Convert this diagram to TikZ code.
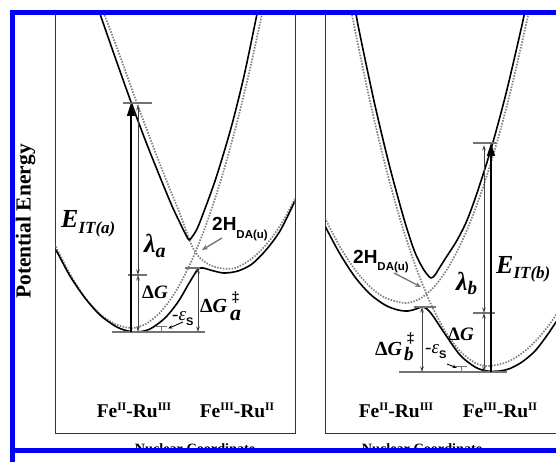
\documentclass[tikz,border=0pt]{standalone}
\usepackage{fontspec}
\setmainfont{Liberation Serif}
\newfontfamily\lsans{Liberation Sans}
\usetikzlibrary{arrows.meta}
\newcommand\fsz[1]{\fontsize{#1}{#1}\selectfont}
\begin{document}
\begin{tikzpicture}[x=1pt,y=-1pt,
  frame/.style={black!80, line width=0.9pt},
  adia/.style={black, line width=1.6pt, line join=round},
  dia/.style={black!50, line width=1.7pt, dash pattern=on 1.5pt off 1.4pt},
  lvl/.style={black!55, line width=1.4pt},
  eit/.style={black, line width=1.5pt, -{Triangle[length=13pt,width=8pt]}},
  dimar/.style={black!75, line width=0.9pt, {Stealth[length=5.5pt,width=3.5pt]}-{Stealth[length=5.5pt,width=3.5pt]}},
  ptr/.style={black!55, line width=1.3pt, -{Stealth[length=6pt,width=5pt]}},
  eptr/.style={black, line width=0.9pt, -{Stealth[length=4.5pt,width=3.5pt]}},
  lbl/.style={inner sep=0pt, anchor=base west},
  ctr/.style={inner sep=0pt, anchor=base},
  stt/.style={black!55, line width=1pt}]
\useasboundingbox (0,0) rectangle (556,462);
\clip (0,0) rectangle (556,462);
\fill[white] (0,0) rectangle (556,462);

% panel frames
\draw[frame] (55,10) -- (55,433) -- (295,433) -- (295,10);
\draw[frame] (325,10) -- (325,433) -- (570,433);

% ---------- left panel curves ----------
\begin{scope}
\clip (55.5,14) rectangle (294.5,432.5);
\draw[dia] plot[smooth] coordinates {(48,231) (55,245) (70,274) (85,297.5) (100,314) (115,324) (131,328) (145,324.4) (160,312.6) (175,292.6) (190,264.3) (205,227.8) (220,183) (235,130) (250,69) (265,0)};
\draw[dia] plot[smooth] coordinates {(96,0) (104,14) (120,56) (135,98) (150,138) (165,177) (180,214) (192,246) (200,258) (210,265) (222,268.5) (235,268) (250,260) (265,246) (280,226) (295,199) (302,186)};
\draw[adia] plot[smooth] coordinates {(48,238) (57,252) (70,276) (85,298) (100,315) (115,326) (126,330.5) (137,332) (150,329) (165,318) (178,302) (188,285) (194,275) (198,269) (203,268) (212,270.5) (224,273) (238,271) (252,264) (266,250) (280,231) (294,203) (302,185)};
\draw[adia] plot[smooth] coordinates {(95,0) (100,14) (115,57) (131,102) (146,142) (160,177) (172,206) (181,225) (186,235) (189,240) (192,237) (197,229) (203,214) (216,178) (231,128) (244,76) (257,14) (260,0)};
\end{scope}

% ---------- right panel curves ----------
\begin{scope}
\clip (325.5,14) rectangle (556,432.5);
\draw[dia] plot[smooth] coordinates {(318,202) (326,220) (340,246.8) (355,269.7) (370,286.7) (385,297.7) (405,303) (420,298.7) (435,285.9) (450,264.5) (465,234.6) (480,196.1) (495,149.1) (510,93.5) (525,29.4) (532,-3)};
\draw[dia] plot[smooth] coordinates {(345,-22) (355,30) (370,101.4) (385,164.4) (400,218.9) (415,264.7) (430,302.1) (445,330.9) (460,351.1) (475,362.8) (488,366) (505,362.8) (520,354.7) (535,341.7) (550,323.7) (565,300.8)};
\draw[adia] plot[smooth] coordinates {(318,212) (326,228) (340,254) (355,277) (370,294) (385,305) (398,310) (408,311) (416,309) (422,307) (427,309) (433,316) (445,334) (460,355) (475,367) (487,371) (500,371) (510,368.5) (522,362) (535,351) (548,334) (560,316)};
\draw[adia] plot[smooth] coordinates {(349,-10) (354,4) (359,30) (374,101) (389,164) (404,219) (414,250) (421,265) (426,273) (431,278) (435,275) (440,267) (447,256) (456,242) (466,222.7) (476,196) (491,149) (506,93.5) (521,29.4) (528,-3)};
\end{scope}

% ---------- left panel levels and arrows ----------
\coordinate (bla) at (112,332); \coordinate (bra) at (205,332);
\coordinate (tla) at (123,103); \coordinate (tra) at (152,103);
\coordinate (mla) at (128,275); \coordinate (mra) at (147,275);
\coordinate (cla) at (185,268); \coordinate (cra) at (200,268);
\draw[lvl] (bla) -- (bra);
\draw[lvl] (tla) -- (tra);
\draw[lvl,line width=1.1pt] (mla) -- (mra);
\draw[lvl,line width=1.1pt] (cla) -- (cra);
\coordinate (e0a) at (131,332); \coordinate (e1a) at (131,103);
\draw[eit] (e0a) -- (e1a);
\coordinate (l0a) at (138,105); \coordinate (l1a) at (138,275); \coordinate (l2a) at (138,332);
\draw[dimar] (l1a) -- (l0a);
\draw[dimar] (l1a) -- (l2a);
\coordinate (g0a) at (198,268); \coordinate (g1a) at (198,332);
\draw[dimar] (g1a) -- (g0a);
\coordinate (s1a) at (155,326); \coordinate (s2a) at (167,326); \coordinate (s3a) at (161,326); \coordinate (s4a) at (161,332);
\draw[stt] (s1a) -- (s2a); \draw[stt] (s3a) -- (s4a);
\coordinate (p0a) at (183,322); \coordinate (p1a) at (168,328.5);
\draw[eptr] (p0a) -- (p1a);
\coordinate (h0a) at (222,238); \coordinate (h1a) at (202,250);
\draw[ptr] (h0a) -- (h1a);

% ---------- right panel levels and arrows ----------
\coordinate (blb) at (399,372); \coordinate (brb) at (507,372);
\coordinate (tlb) at (473,143); \coordinate (trb) at (496,143);
\coordinate (mlb) at (473,313); \coordinate (mrb) at (495,313);
\coordinate (clb) at (414,307); \coordinate (crb) at (436,307);
\draw[lvl] (blb) -- (brb);
\draw[lvl] (tlb) -- (trb);
\draw[lvl,line width=1.1pt] (mlb) -- (mrb);
\draw[lvl,line width=1.1pt] (clb) -- (crb);
\coordinate (e0b) at (491,372); \coordinate (e1b) at (491,143);
\draw[eit] (e0b) -- (e1b);
\coordinate (l0b) at (484,145); \coordinate (l1b) at (484,313); \coordinate (l2b) at (484,372);
\draw[dimar] (l1b) -- (l0b);
\draw[dimar] (l1b) -- (l2b);
\coordinate (g0b) at (422,307); \coordinate (g1b) at (422,372);
\draw[dimar] (g1b) -- (g0b);
\coordinate (s1b) at (456,366); \coordinate (s2b) at (467,366); \coordinate (s3b) at (461,366); \coordinate (s4b) at (461,372);
\draw[stt] (s1b) -- (s2b); \draw[stt] (s3b) -- (s4b);
\coordinate (p0b) at (447,364); \coordinate (p1b) at (457,368);
\draw[eptr] (p0b) -- (p1b);
\coordinate (h0b) at (394,273); \coordinate (h1b) at (421,287);
\draw[ptr] (h0b) -- (h1b);

% ---------- labels left ----------
\node[lbl] (eita) at (61,228) {\fsz{26}\bfseries\itshape E\raisebox{-5.5pt}{\fsz{17}IT(a)}};
\node[lbl] (lama) at (144,252) {\fsz{26}\bfseries\itshape λ\raisebox{-5pt}{\fsz{20}a}};
\node[lbl] (dga) at (142,298) {\fsz{19}\bfseries Δ\itshape G};
\node[lbl] (dgta) at (200,312) {\fsz{20}\bfseries Δ\itshape G};
\node[lbl] (dda) at (232,301) {\fsz{14}\bfseries ‡};
\node[lbl] (suba) at (230,320) {\fsz{22}\bfseries\itshape a};
\node[lbl] (epsa) at (172,320) {\fsz{19}\itshape -ε\raisebox{-5pt}{\lsans\bfseries\upshape\fsz{11}S}};
\node[lbl] (ha) at (212,230) {\lsans\bfseries\fsz{19}2H\raisebox{-8pt}{\fsz{11.5}DA(u)}};
\node[ctr] (fa1) at (134,417) {\fsz{19.5}\bfseries Fe\raisebox{7pt}{\fsz{11.5}II}-Ru\raisebox{7pt}{\fsz{11.5}III}};
\node[ctr] (fa2) at (237,417) {\fsz{19.5}\bfseries Fe\raisebox{7pt}{\fsz{11.5}III}-Ru\raisebox{7pt}{\fsz{11.5}II}};

% ---------- labels right ----------
\node[lbl] (eitb) at (496,273) {\fsz{26}\bfseries\itshape E\raisebox{-5.5pt}{\fsz{17}IT(b)}};
\node[lbl] (lamb) at (456,290) {\fsz{26}\bfseries\itshape λ\raisebox{-4pt}{\fsz{19}b}};
\node[lbl] (dgb) at (448,340) {\fsz{19}\bfseries Δ\itshape G};
\node[lbl] (dgtb) at (375,355) {\fsz{20}\bfseries Δ\itshape G};
\node[lbl] (ddb) at (407,342) {\fsz{14}\bfseries ‡};
\node[lbl] (subb) at (404,360) {\fsz{19}\bfseries\itshape b};
\node[lbl] (epsb) at (425,353) {\fsz{19}\itshape -ε\raisebox{-5pt}{\lsans\bfseries\upshape\fsz{11}S}};
\node[lbl] (hb) at (353,263) {\lsans\bfseries\fsz{19}2H\raisebox{-7pt}{\fsz{11.5}DA(u)}};
\node[ctr] (fb1) at (396,417) {\fsz{19.5}\bfseries Fe\raisebox{7pt}{\fsz{11.5}II}-Ru\raisebox{7pt}{\fsz{11.5}III}};
\node[ctr] (fb2) at (500,417) {\fsz{19.5}\bfseries Fe\raisebox{7pt}{\fsz{11.5}III}-Ru\raisebox{7pt}{\fsz{11.5}II}};

% axis labels
\node[inner sep=0pt, anchor=base, rotate=90] (pe) at (30.5,221.5) {\fsz{21.5}\bfseries Potential Energy};
\node[ctr] (nca) at (195,453.5) {\fsz{14.2}\bfseries Nuclear Coordinate};
\node[ctr] (ncb) at (422,453.5) {\fsz{14.2}\bfseries Nuclear Coordinate};

% blue selection frame
\fill[white] (0,452.5) rectangle (556,462);
\draw[blue, line width=5pt] (12.5,470) -- (12.5,12.5) -- (570,12.5);
\draw[blue, line width=5pt] (10,450.5) -- (570,450.5);
\end{tikzpicture}
\end{document}
